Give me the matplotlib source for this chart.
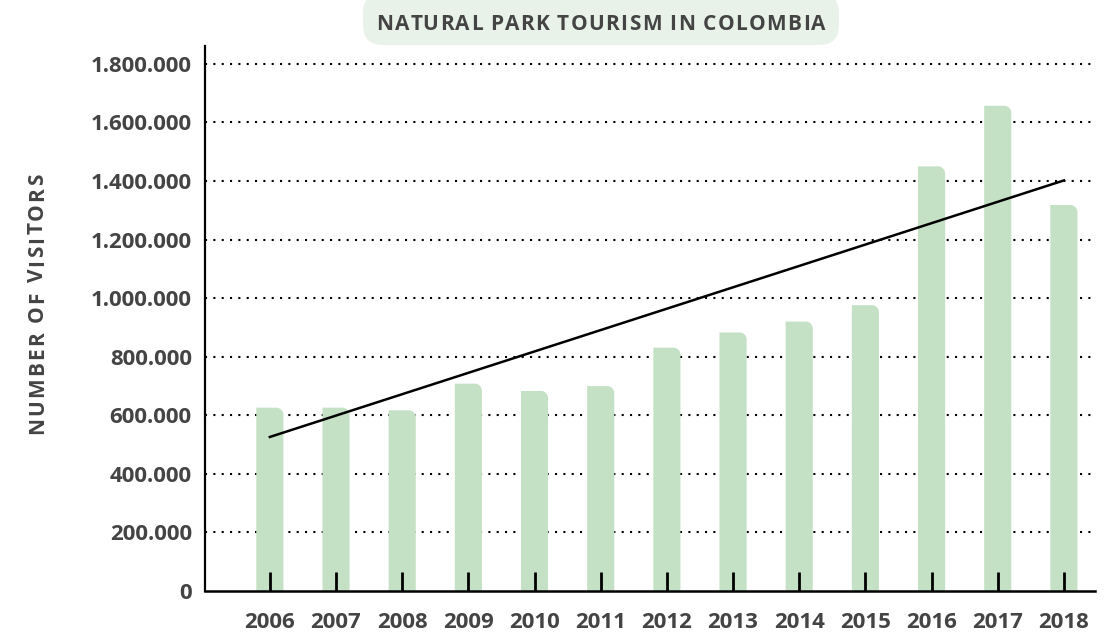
import numpy as np
import matplotlib
matplotlib.use('Agg')
import matplotlib.pyplot as plt
from matplotlib.ticker import FuncFormatter
from matplotlib.path import Path
from matplotlib.patches import PathPatch, FancyBboxPatch
from matplotlib.transforms import IdentityTransform

# data
years = [2006, 2007, 2008, 2009, 2010, 2011, 2012, 2013, 2014, 2015, 2016, 2017, 2018]
visitors = [626000, 626000, 617000, 708000, 683000, 700000, 831000, 883000,
            920000, 976000, 1450000, 1657000, 1318000]
trend_years = [2006, 2018]
trend_values = [526000, 1402000]
y_ticks = [0, 200000, 400000, 600000, 800000, 1000000, 1200000, 1400000, 1600000, 1800000]

title = 'NATURAL PARK TOURISM IN COLOMBIA'
y_title = 'NUMBER OF VISITORS'

bar_color = '#c5e1c5'
text_color = '#444444'

W, H = 1109, 634

plt.rcParams['font.family'] = ['Open Sans', 'DejaVu Sans']
plt.rcParams['font.weight'] = 'bold'

fig = plt.figure(figsize=(W / 100, H / 100), dpi=100)
ax = fig.add_axes([205 / W, 1 - 591 / H, (1095 - 205) / W, (591 - 46) / H])

ax.set_xlim(-0.98, 12.47)
ax.set_ylim(0, 1861000)

# bars with a rounded top-right corner (radius in pixels -> data units)
r_px = 7
px_x = (12.47 + 0.98) / (1095 - 205)
px_y = 1861000 / (591 - 46)
rx, ry = r_px * px_x, r_px * px_y
k = 0.5523
bw = 0.41
idx = np.arange(len(years))
for i, v in zip(idx, visitors):
    x0, x1 = i - bw / 2, i + bw / 2
    verts = [(x0, 0), (x1, 0), (x1, v - ry),
             (x1, v - ry + k * ry), (x1 - rx + k * rx, v), (x1 - rx, v),
             (x0, v), (x0, 0)]
    codes = [Path.MOVETO, Path.LINETO, Path.LINETO,
             Path.CURVE4, Path.CURVE4, Path.CURVE4,
             Path.LINETO, Path.CLOSEPOLY]
    ax.add_patch(PathPatch(Path(verts, codes), fc=bar_color, ec='none', zorder=2))

# trend line
t_idx = [years.index(y) for y in trend_years]
ax.plot(t_idx, trend_values, color='black', linewidth=1.8, zorder=3)

# dotted grid
for v in y_ticks[1:]:
    ax.axhline(v, color='black', linewidth=1.5, linestyle=(0, (1, 3)), zorder=1)

ax.set_axisbelow(False)
ax.set_xticks(idx)
ax.set_xticklabels([str(y) for y in years])
ax.set_yticks(y_ticks)
ax.yaxis.set_major_formatter(FuncFormatter(lambda v, p: f'{int(v):,}'.replace(',', '.')))

ax.tick_params(axis='x', direction='in', length=14, width=2, pad=15,
               labelsize=16, labelcolor=text_color, color='black')
ax.tick_params(axis='y', length=0, pad=9.5, labelsize=16, labelcolor=text_color)
for lbl in ax.get_xticklabels() + ax.get_yticklabels():
    lbl.set_fontweight('bold')

for s in ['top', 'right']:
    ax.spines[s].set_visible(False)
ax.spines['left'].set_linewidth(1.6)
ax.spines['bottom'].set_linewidth(1.8)


def spaced_text(s, cx, cy, size, spacing, vertical=False):
    # draws s letter by letter with extra spacing, centred at (cx, cy) pixels from top-left
    renderer = fig.canvas.get_renderer()
    probe = fig.text(0, 0, '|', fontsize=size, fontweight='bold')
    bar_w = probe.get_window_extent(renderer).width
    offs = [0.0]
    for i in range(1, len(s)):
        probe.set_text(s[:i] + '|')
        offs.append(probe.get_window_extent(renderer).width - bar_w)
    probe.set_text(s)
    total = probe.get_window_extent(renderer).width + spacing * (len(s) - 1)
    probe.remove()
    start = -total / 2
    for i, ch in enumerate(s):
        if ch == ' ':
            continue
        d = start + offs[i] + i * spacing
        if vertical:
            x, y, rot = cx, H - cy + d, 90
        else:
            x, y, rot = cx + d, H - cy, 0
        fig.text(x / W, y / H, ch, fontsize=size, fontweight='bold', color=text_color,
                 rotation=rot, rotation_mode='anchor', ha='left', va='baseline')


box = FancyBboxPatch((363, H - 45), 839 - 363, 52,
                     boxstyle='round,pad=0,rounding_size=20',
                     fc='#e8f2e8', ec='none', transform=IdentityTransform())
fig.add_artist(box)

spaced_text(title, 601, 30, 15, 1.4)
spaced_text(y_title, 43, 304, 15, 2.2, vertical=True)

plt.savefig('out.png', dpi=100)
